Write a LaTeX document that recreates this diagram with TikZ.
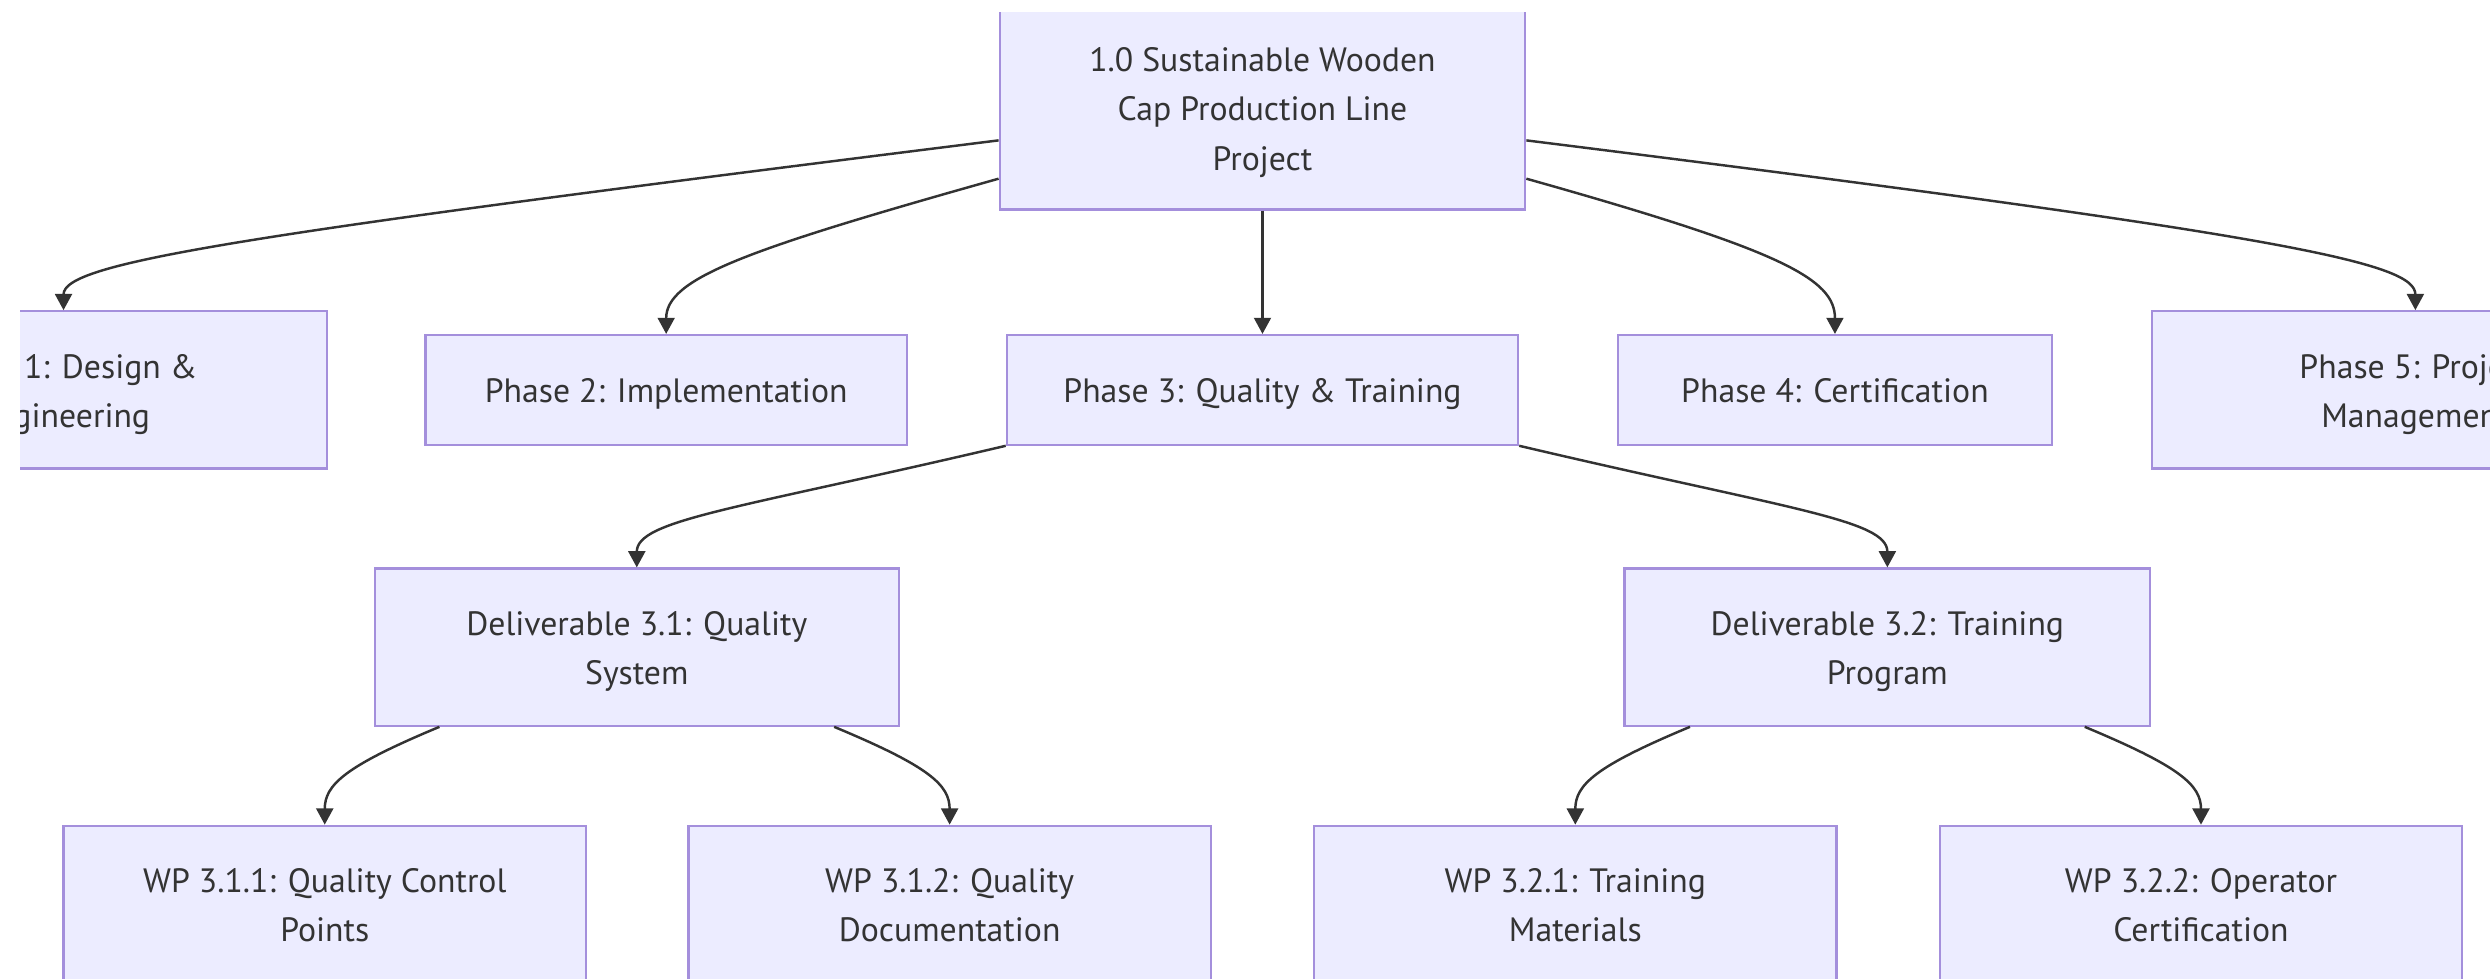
\documentclass[tikz,border=0pt]{standalone}
\usepackage{fontspec}
\setmainfont{PT Sans}
\usetikzlibrary{arrows.meta}
\definecolor{boxfill}{HTML}{ECECFF}
\definecolor{boxline}{HTML}{A48FDC}
\definecolor{linkgray}{HTML}{333333}

\begin{document}
\begin{tikzpicture}[x=0.01588cm, y=-0.01588cm,
    wbs/.style={draw=boxline, line width=0.65pt, fill=boxfill, text=linkgray,
      align=center, inner sep=0pt, font=\fontsize{9.6}{13.96}\selectfont,
      text height=10.4pt, text depth=3pt},
    wbstwo/.style={wbs, text height=24.36pt},
    wbsthree/.style={wbs, text height=38.32pt},
    link/.style={draw=linkgray, line width=0.7pt,
      -{Triangle[length=4.6pt,width=4.8pt]}}]
  \useasboundingbox (0,0) rectangle (1568,616);
  \clip (12.6,8) rectangle (1568,616);
  \node[wbsthree, minimum width=5.256cm, minimum height=2.033cm] (root) at (795,68)
    {1.0 Sustainable Wooden\\Cap Production Line\\Project};
  \node[wbstwo, minimum width=5.272cm, minimum height=1.572cm] (ph1) at (40,245.5)
    {Phase 1: Design \&\\Engineering};
  \node[wbs, minimum width=4.812cm, minimum height=1.096cm] (ph2) at (419.5,245.5)
    {Phase 2: Implementation};
  \node[wbs, minimum width=5.113cm, minimum height=1.096cm] (ph3) at (795,245.5)
    {Phase 3: Quality \& Training};
  \node[wbs, minimum width=4.335cm, minimum height=1.096cm] (ph4) at (1155.5,245.5)
    {Phase 4: Certification};
  \node[wbstwo, minimum width=5.272cm, minimum height=1.572cm] (ph5) at (1521,245.5)
    {Phase 5: Project\\Management};
  \node[wbstwo, minimum width=5.240cm, minimum height=1.572cm] (del31) at (401,407.5)
    {Deliverable 3.1: Quality\\System};
  \node[wbstwo, minimum width=5.256cm, minimum height=1.572cm] (del32) at (1188.5,407.5)
    {Deliverable 3.2: Training\\Program};
  \node[wbstwo, minimum width=5.225cm, minimum height=1.572cm] (wp311) at (204.5,569.5)
    {WP 3.1.1: Quality Control\\Points};
  \node[wbstwo, minimum width=5.225cm, minimum height=1.572cm] (wp312) at (598,569.5)
    {WP 3.1.2: Quality\\Documentation};
  \node[wbstwo, minimum width=5.225cm, minimum height=1.572cm] (wp321) at (992,569.5)
    {WP 3.2.1: Training\\Materials};
  \node[wbstwo, minimum width=5.225cm, minimum height=1.572cm] (wp322) at (1386,569.5)
    {WP 3.2.2: Operator\\Certification};

  \draw[link] (root.187) .. controls +(-480,60) and +(0,-30) .. (ph1.north);
  \draw[link] (root.195) .. controls +(-160,45) and +(0,-35) .. (ph2.north);
  \draw[link] (root.south) -- (ph3.north);
  \draw[link] (root.345) .. controls +(160,45) and +(0,-35) .. (ph4.north);
  \draw[link] (root.353) .. controls +(480,60) and +(0,-30) .. (ph5.north);

  \draw[link] (ph3.south west) .. controls +(-170,40) and +(0,-30) .. (del31.north);
  \draw[link] (ph3.south east) .. controls +(170,40) and +(0,-30) .. (del32.north);

  \draw[link] (del31.202) .. controls +(-60,25) and +(0,-25) .. (wp311.north);
  \draw[link] (del31.338) .. controls +(60,25) and +(0,-25) .. (wp312.north);
  \draw[link] (del32.202) .. controls +(-60,25) and +(0,-25) .. (wp321.north);
  \draw[link] (del32.338) .. controls +(60,25) and +(0,-25) .. (wp322.north);
\end{tikzpicture}
\end{document}
